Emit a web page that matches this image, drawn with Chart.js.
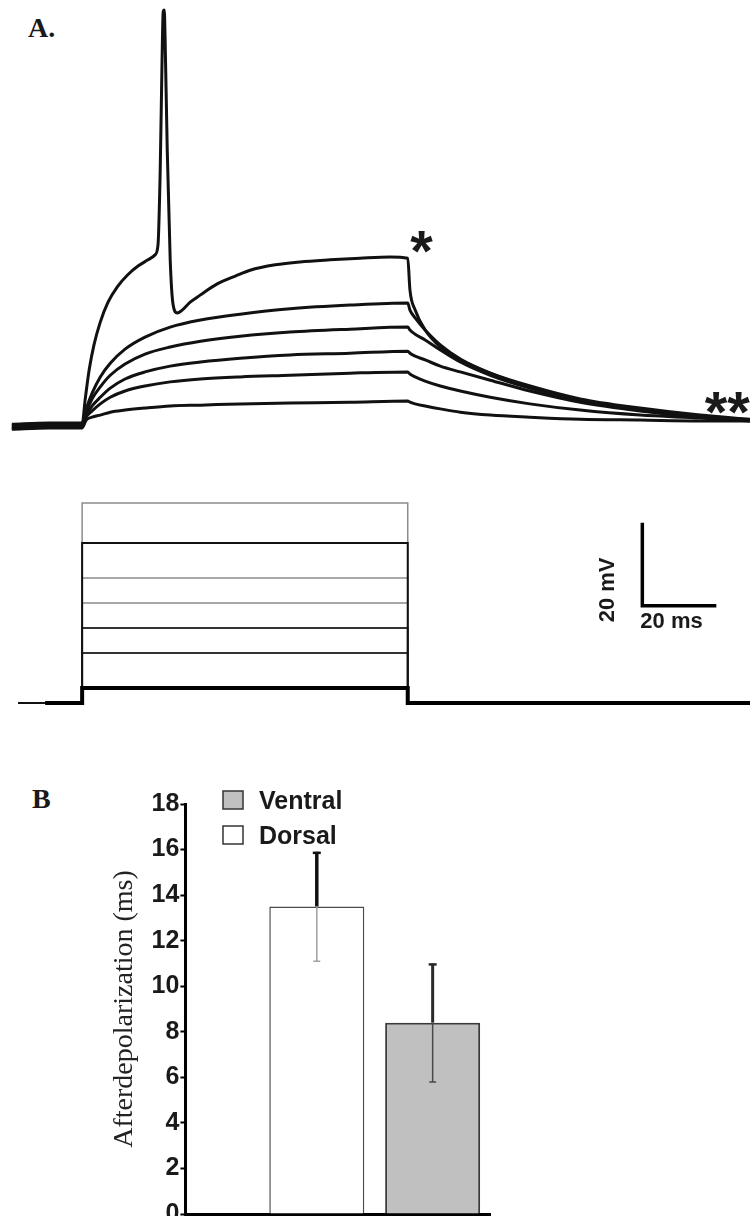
<!DOCTYPE html>
<html>
<head>
<meta charset="utf-8">
<script src="https://cdn.jsdelivr.net/npm/chart.js@4.4.1/dist/chart.umd.min.js"></script>
<style>
  html, body { margin: 0; padding: 0; background: #fff; }
  body { width: 750px; height: 1216px; overflow: hidden; position: relative; }
  .panel { position: absolute; left: 0; width: 750px; }
  .panel canvas { display: block; }
  .tag { position: absolute; font: bold 28px "Liberation Serif", "Times New Roman", serif; color: #1a1a1a; line-height: 1; }
</style>
</head>
<body>
<div class="tag" style="left:28px;top:14px">A.</div>
<div class="tag" style="left:32px;top:785px">B</div>
<div class="panel" style="top:0;height:440px"><canvas id="traces" width="750" height="440"></canvas></div>
<div class="panel" style="top:470px;height:250px"><canvas id="steps" width="750" height="250"></canvas></div>
<div class="panel" style="top:760px;height:470px"><canvas id="adp" width="750" height="470"></canvas></div>
<script>
// ---- A: membrane potential (mV) vs time (ms from step onset) ----
const spikeTime = [-18.6, -8.6, 0, 0.8, 1.9, 3.2, 4.9, 7.0, 9.5, 12.2, 15.1, 17.8, 19.7, 20.5, 21.1, 21.6, 21.9, 22.2, 22.4, 23.0,
  23.8, 24.6, 25.7, 26.8, 29.2, 31.9, 36.5, 41.4, 45.4, 52.2, 58.9, 67.0, 75.1, 83.2, 88.0, 88.6, 90.0, 92.7, 96.8, 102.2,
  110.3, 121.1, 134.6, 150.8, 167.0, 180.5];
const spikeMv = [-70.2, -69.8, -69.8, -64.0, -56.7, -50.7, -45.2, -40.4, -36.7, -33.9, -31.7, -30.2, -29.0, -26.6, -8.6, 18.0, 29.5, 30.0, 24.0, -3.7,
  -30.2, -41.1, -43.0, -42.5, -40.4, -38.7, -36.0, -34.1, -32.7, -31.4, -30.7, -30.2, -29.8, -29.5, -29.8, -37.5, -42.3, -47.1, -51.2, -54.3,
  -57.5, -60.6, -63.7, -65.9, -67.6, -68.6];

const sweepTime = [-19, -9, 0, 1.1, 2.7, 4.9, 7.6, 11.6, 17, 23.8, 32, 42.7, 56.2, 72.4, 88, 88.6, 90, 92.7, 96.8, 102.2, 110.3, 121, 134.6, 150.8, 167, 180.5];
const sub1Mv = [-69.8, -69.5, -69.5, -66.1, -62.3, -58.4, -55.1, -51.7, -48.8, -46.4, -44.7, -43.3, -42.0, -41.1, -40.6, -42.3, -44.2, -47.1, -50.7, -54.1, -57.5, -60.8, -64.0, -66.1, -67.8, -68.8];
const sub2Mv = [-70.1, -69.8, -69.8, -66.9, -63.7, -60.8, -58.0, -55.3, -52.9, -51.2, -49.8, -48.6, -47.6, -46.9, -46.4, -47.1, -48.1, -49.5, -51.9, -54.8, -58.0, -61.1, -64.2, -66.4, -67.8, -68.8];
const sub3Mv = [-70.5, -70.2, -70.2, -67.6, -65.4, -63.3, -61.1, -58.9, -57.2, -55.8, -54.8, -53.9, -53.1, -52.7, -52.2, -52.7, -53.4, -54.3, -55.8, -57.2, -59.2, -61.8, -64.5, -66.6, -68.1, -68.8];
const sub4Mv = [-70.8, -70.5, -70.5, -68.1, -66.6, -64.9, -63.3, -61.8, -60.6, -59.6, -58.9, -58.4, -58.0, -57.5, -57.2, -57.7, -58.4, -59.4, -60.6, -61.8, -63.3, -64.9, -66.4, -67.6, -68.3, -69.0];
const sub5Mv = [-71.0, -70.7, -70.7, -68.8, -68.1, -67.6, -66.9, -66.4, -65.9, -65.4, -65.2, -64.9, -64.7, -64.5, -64.2, -64.5, -64.9, -65.4, -66.1, -66.9, -67.6, -68.1, -68.6, -68.8, -69.0, -69.0];

// injected current steps (pA)
const stepLevels = [200, 160, 125, 100, 75, 50, 15];
const stepOn = 0;
const stepOff = 88;

// scale bar
const scaleMs = 20;
const scaleMv = 20;

// ---- B: afterdepolarization duration (ms) ----
const groups = ["Dorsal", "Ventral"];
const adpMean = [13.5, 8.4];
const adpSem = [2.4, 2.6];
const legendOrder = ["Ventral", "Dorsal"];

// ---- shared axis ranges / layout ----
const timeRange = { min: -22.2, max: 180.5 };
const sweepStart = -17.3;
const thickSweepStart = -10;
const scaleAnchor = { t: 151.4, mv: 0 };

Chart.defaults.font.family = '"Liberation Sans", Arial, sans-serif';
Chart.defaults.color = "#1a1a1a";

const xy = (xs, ys) => xs.map((x, i) => ({ x, y: ys[i] }));

// asterisks placed by data coordinates, centred on their ink box
const asterisks = {
  id: "asterisks",
  afterDatasetsDraw(chart, args, opts) {
    const { ctx, scales: { x, y } } = chart;
    ctx.save();
    ctx.fillStyle = "#1a1a1a";
    ctx.textAlign = "left";
    ctx.textBaseline = "alphabetic";
    ctx.font = 'bold 100px "Liberation Sans", Arial, sans-serif';
    const probe = ctx.measureText("*");
    const size = 100 * opts.inkHeight / (probe.actualBoundingBoxAscent + probe.actualBoundingBoxDescent);
    ctx.font = `bold ${size}px "Liberation Sans", Arial, sans-serif`;
    opts.marks.forEach(m => {
      const tm = ctx.measureText(m.text);
      const px = x.getPixelForValue(m.t);
      const py = y.getPixelForValue(m.mv);
      const dx = px - (tm.actualBoundingBoxRight - tm.actualBoundingBoxLeft) / 2;
      const dy = py + (tm.actualBoundingBoxAscent - tm.actualBoundingBoxDescent) / 2;
      ctx.fillText(m.text, dx, dy);
    });
    ctx.restore();
  }
};

const traceSets = [
  xy(spikeTime, spikeMv),
  xy(sweepTime, sub1Mv),
  xy(sweepTime, sub2Mv),
  xy(sweepTime, sub3Mv),
  xy(sweepTime, sub4Mv),
  xy(sweepTime, sub5Mv)
];

new Chart(document.getElementById("traces"), {
  type: "line",
  data: {
    datasets: traceSets.map(pts => ({
      data: pts,
      borderColor: "#111",
      borderWidth: 3,
      pointRadius: 0,
      fill: false,
      cubicInterpolationMode: "monotone"
    }))
  },
  options: {
    responsive: false,
    animation: false,
    events: [],
    layout: { padding: 0 },
    plugins: {
      legend: { display: false },
      tooltip: { enabled: false },
      colors: { enabled: false },
      asterisks: {
        inkHeight: 22,
        marks: [
          { text: "*", t: 91.8, mv: -25.8 },
          { text: "**", t: 174.4, mv: -64.6 }
        ]
      }
    },
    scales: {
      x: { type: "linear", display: false, ...timeRange },
      y: { type: "linear", display: false, min: -73.6, max: 32.4 }
    }
  },
  plugins: [asterisks]
});

// current step protocol + scale bar
const stepStyles = [
  { color: "#8c8c8c", width: 1.5, order: 2 },
  { color: "#111", width: 2, order: -1 },
  { color: "#8c8c8c", width: 1.5, order: 1 },
  { color: "#8c8c8c", width: 1.5, order: 1 },
  { color: "#333", width: 1.8, order: 0 },
  { color: "#333", width: 1.8, order: 0 },
  { color: "#000", width: 4, order: -2 }
];

const stepSets = stepLevels.map((level, i) => {
  const start = i === stepLevels.length - 1 ? thickSweepStart : sweepStart;
  return {
    data: [
      { x: start, y: 0 }, { x: stepOn, y: 0 }, { x: stepOn, y: level },
      { x: stepOff, y: level }, { x: stepOff, y: 0 }, { x: timeRange.max, y: 0 }
    ],
    borderColor: stepStyles[i].color,
    borderWidth: stepStyles[i].width,
    pointRadius: 0,
    tension: 0,
    fill: false,
    yAxisID: "y",
    order: stepStyles[i].order
  };
});

const scaleBar = {
  data: [
    { x: scaleAnchor.t, y: scaleAnchor.mv + scaleMv },
    { x: scaleAnchor.t, y: scaleAnchor.mv },
    { x: scaleAnchor.t + scaleMs, y: scaleAnchor.mv }
  ],
  borderColor: "#000",
  borderWidth: 3.5,
  borderJoinStyle: "miter",
  borderCapStyle: "butt",
  pointRadius: 0,
  tension: 0,
  fill: false,
  yAxisID: "mv",
  order: -3
};

const scaleBarLabels = {
  id: "scaleBarLabels",
  afterDatasetsDraw(chart) {
    const { ctx } = chart;
    const meta = chart.getDatasetMeta(chart.data.datasets.length - 1);
    const corner = meta.data[1];
    ctx.save();
    ctx.fillStyle = "#1a1a1a";
    ctx.font = 'bold 22px "Liberation Sans", Arial, sans-serif';
    ctx.textAlign = "left";
    ctx.textBaseline = "alphabetic";
    ctx.fillText(`${scaleMs} ms`, corner.x - 2, corner.y + 22);
    ctx.translate(corner.x - 28, corner.y - 16);
    ctx.rotate(-Math.PI / 2);
    ctx.textAlign = "center";
    ctx.textBaseline = "alphabetic";
    ctx.fillText(`${scaleMv} mV`, 0, 0);
    ctx.restore();
  }
};

new Chart(document.getElementById("steps"), {
  type: "line",
  data: { datasets: [...stepSets, scaleBar] },
  options: {
    responsive: false,
    animation: false,
    events: [],
    layout: { padding: 0 },
    plugins: { legend: { display: false }, tooltip: { enabled: false }, colors: { enabled: false } },
    scales: {
      x: { type: "linear", display: false, ...timeRange },
      y: { type: "linear", display: false, min: -17, max: 233 },
      mv: { type: "linear", display: false, min: -27.5, max: 32.74 }
    }
  },
  plugins: [scaleBarLabels]
});

// ---- B ----
const barStyles = {
  Dorsal: { fill: "#ffffff", border: "#4a4a4a", borderWidth: 1.5, upper: "#111", upperWidth: 3.5, lower: "#a0a0a0", lowerWidth: 1.5 },
  Ventral: { fill: "#c0c0c0", border: "#3a3a3a", borderWidth: 2, upper: "#2a2a2a", upperWidth: 3, lower: "#484848", lowerWidth: 1.5 }
};

const errorBars = {
  id: "errorBars",
  afterDatasetsDraw(chart) {
    const { ctx, scales: { y } } = chart;
    chart.data.datasets.forEach((ds, i) => {
      const bar = chart.getDatasetMeta(i).data[0];
      const st = barStyles[ds.label];
      const mean = ds.data[0].y;
      const hi = y.getPixelForValue(mean + ds.sem);
      const lo = y.getPixelForValue(mean - ds.sem);
      ctx.save();
      ctx.lineCap = "butt";
      ctx.strokeStyle = st.upper;
      ctx.lineWidth = st.upperWidth;
      ctx.beginPath();
      ctx.moveTo(bar.x, bar.y);
      ctx.lineTo(bar.x, hi);
      ctx.stroke();
      ctx.lineWidth = 2.5;
      ctx.beginPath();
      ctx.moveTo(bar.x - 4, hi + 1);
      ctx.lineTo(bar.x + 4, hi + 1);
      ctx.stroke();
      ctx.strokeStyle = st.lower;
      ctx.lineWidth = st.lowerWidth;
      ctx.beginPath();
      ctx.moveTo(bar.x, bar.y);
      ctx.lineTo(bar.x, lo);
      ctx.moveTo(bar.x - 3.5, lo);
      ctx.lineTo(bar.x + 3.5, lo);
      ctx.stroke();
      ctx.restore();
    });
  }
};

const boxLegend = {
  id: "boxLegend",
  afterDraw(chart, args, opts) {
    const { ctx } = chart;
    ctx.save();
    ctx.font = 'bold 25px "Liberation Sans", Arial, sans-serif';
    ctx.textAlign = "left";
    ctx.textBaseline = "middle";
    chart.data.datasets.forEach((ds, i) => {
      const top = opts.top + i * opts.rowGap;
      ctx.fillStyle = ds.backgroundColor;
      ctx.fillRect(opts.left, top, opts.box, opts.boxH);
      ctx.strokeStyle = "#333";
      ctx.lineWidth = 1.5;
      ctx.strokeRect(opts.left, top, opts.box, opts.boxH);
      ctx.fillStyle = "#1a1a1a";
      ctx.fillText(ds.label, opts.left + opts.box + opts.gap, top + opts.boxH / 2 + 2);
    });
    ctx.restore();
  }
};

new Chart(document.getElementById("adp"), {
  type: "bar",
  data: {
    datasets: legendOrder.map(g => {
      const i = groups.indexOf(g);
      return {
        label: g,
        data: [{ x: i + 1, y: adpMean[i] }],
        sem: adpSem[i],
        backgroundColor: barStyles[g].fill,
        borderColor: barStyles[g].border,
        borderWidth: barStyles[g].borderWidth,
        borderSkipped: "start"
      };
    })
  },
  options: {
    responsive: false,
    animation: false,
    events: [],
    layout: { padding: { left: 108, top: 44, right: 260, bottom: 5 } },
    datasets: { bar: { grouped: false, barPercentage: 0.82, categoryPercentage: 1 } },
    plugins: {
      legend: { display: false },
      tooltip: { enabled: false },
      colors: { enabled: false },
      boxLegend: { left: 223, top: 31, rowGap: 35, box: 20, boxH: 18, gap: 16 }
    },
    scales: {
      x: {
        type: "linear", min: -0.134, max: 2.495, offset: false,
        grid: { display: false, drawTicks: false },
        ticks: { display: false, stepSize: 1, includeBounds: false },
        border: { display: true, color: "#000", width: 3 }
      },
      y: {
        min: 0, max: 18,
        ticks: { stepSize: 2, padding: 1, color: "#1a1a1a", font: { size: 25, weight: "bold" } },
        grid: { drawOnChartArea: false, tickLength: 5, tickColor: "#000", tickWidth: 2 },
        border: { color: "#000", width: 3 },
        title: {
          display: true,
          text: "Afterdepolarization (ms)",
          color: "#222",
          font: { family: '"Liberation Serif", "Times New Roman", serif', size: 28 },
          padding: { top: 0, bottom: 9 }
        }
      }
    }
  },
  plugins: [errorBars, boxLegend]
});
</script>
</body>
</html>
